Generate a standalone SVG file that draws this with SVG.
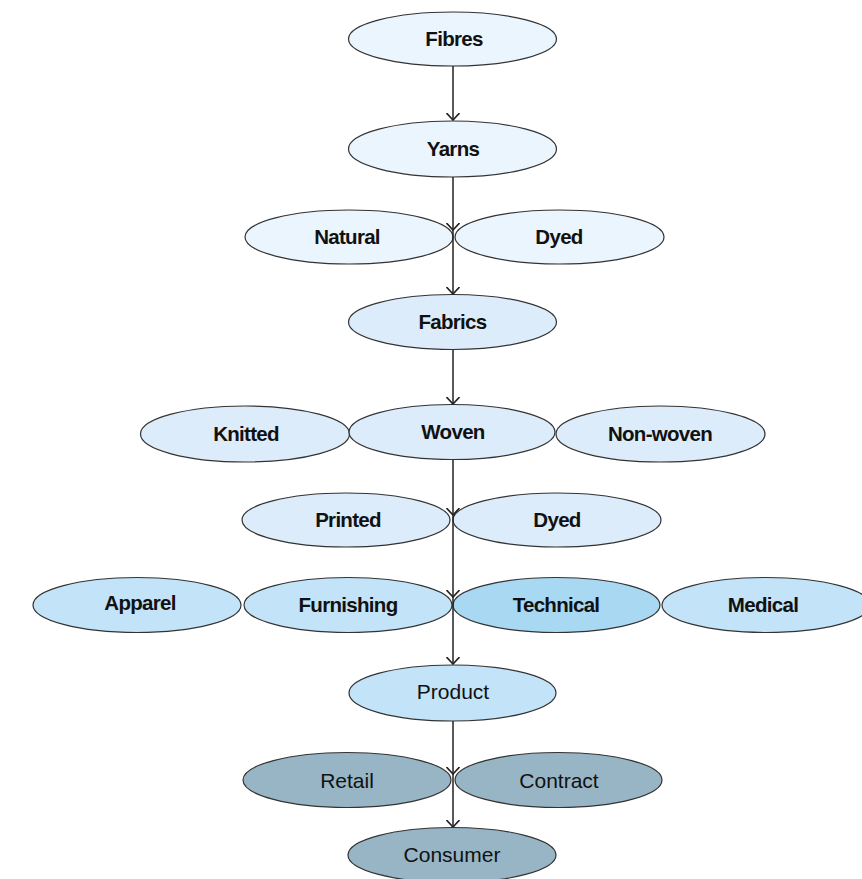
<svg xmlns="http://www.w3.org/2000/svg" width="862" height="879" viewBox="0 0 862 879">
<style>
  .n ellipse { stroke: #333333; stroke-width: 1.2; }
  .l1 { fill: #eaf5fd; }
  .l2 { fill: #dcecfa; }
  .l3 { fill: #c2e3f8; }
  .l3b { fill: #a9d8f3; }
  .l4 { fill: #97b5c5; }
  .b { font-family: "Liberation Sans", Arial, sans-serif; font-weight: bold; font-size: 20.5px; letter-spacing: -0.7px; fill: #111; text-anchor: middle; }
  .r { font-family: "Liberation Sans", Arial, sans-serif; font-size: 21px; fill: #111; text-anchor: middle; }
  .c line { stroke: #222; stroke-width: 1.5; fill: none; marker-end: url(#ah); }
</style>
<defs>
  <marker id="ah" viewBox="0 0 8 14" refX="7.5" refY="7" markerWidth="8" markerHeight="14" markerUnits="userSpaceOnUse" orient="auto">
    <path d="M0.5,0.5 L7.5,7 L0.5,13.5" fill="none" stroke="#222" stroke-width="1.6"/>
  </marker>
</defs>
<rect width="862" height="879" fill="#ffffff"/>

<g id="fibres" class="n"><ellipse class="l1" cx="452.5" cy="39" rx="104" ry="27"/><text class="b" x="454" y="46">Fibres</text></g>
<g id="yarns" class="n"><ellipse class="l1" cx="452.5" cy="149" rx="104" ry="28"/><text class="b" x="453" y="156">Yarns</text></g>
<g id="natural" class="n"><ellipse class="l1" cx="349" cy="237" rx="104" ry="27"/><text class="b" x="347" y="244">Natural</text></g>
<g id="dyed1" class="n"><ellipse class="l1" cx="559.5" cy="237" rx="104.5" ry="27"/><text class="b" x="559" y="244">Dyed</text></g>
<g id="fabrics" class="n"><ellipse class="l2" cx="452.5" cy="322" rx="104" ry="27.5"/><text class="b" x="452.5" y="329">Fabrics</text></g>
<g id="knitted" class="n"><ellipse class="l2" cx="245" cy="434" rx="104.5" ry="28"/><text class="b" x="246" y="441">Knitted</text></g>
<g id="woven" class="n"><ellipse class="l2" cx="452" cy="432" rx="103" ry="27.5"/><text class="b" x="453" y="439">Woven</text></g>
<g id="nonwoven" class="n"><ellipse class="l2" cx="660.5" cy="434" rx="104.5" ry="28"/><text class="b" x="660" y="441">Non-woven</text></g>
<g id="printed" class="n"><ellipse class="l2" cx="346" cy="520" rx="104" ry="27"/><text class="b" x="348" y="527">Printed</text></g>
<g id="dyed2" class="n"><ellipse class="l2" cx="557" cy="520" rx="104" ry="27"/><text class="b" x="557" y="527">Dyed</text></g>
<g id="apparel" class="n"><ellipse class="l3" cx="137" cy="605" rx="104" ry="27.5"/><text class="b" x="140" y="610">Apparel</text></g>
<g id="furnishing" class="n"><ellipse class="l3" cx="348" cy="605" rx="104" ry="27.5"/><text class="b" x="348" y="612">Furnishing</text></g>
<g id="technical" class="n"><ellipse class="l3b" cx="556.5" cy="605" rx="103.5" ry="27.5"/><text class="b" x="556" y="612">Technical</text></g>
<g id="medical" class="n"><ellipse class="l3" cx="766" cy="605" rx="104" ry="27.5"/><text class="b" x="763" y="612">Medical</text></g>
<g id="product" class="n"><ellipse class="l3" cx="452.5" cy="693" rx="103.5" ry="28"/><text class="r" x="453" y="699">Product</text></g>
<g id="retail" class="n"><ellipse class="l4" cx="347" cy="780" rx="104" ry="27.5"/><text class="r" x="347" y="788">Retail</text></g>
<g id="contract" class="n"><ellipse class="l4" cx="558.5" cy="780" rx="103.5" ry="27.5"/><text class="r" x="559" y="788">Contract</text></g>
<g id="consumer" class="n"><ellipse class="l4" cx="452" cy="855" rx="104" ry="27.5"/><text class="r" x="452" y="862">Consumer</text></g>

<g id="connectors" class="c">
  <line x1="453" y1="66" x2="453" y2="120"/>
  <line x1="453" y1="177" x2="453" y2="230"/>
  <line x1="453" y1="230" x2="453" y2="294"/>
  <line x1="453" y1="350" x2="453" y2="404"/>
  <line x1="453" y1="460" x2="453" y2="515"/>
  <line x1="453" y1="515" x2="453" y2="597"/>
  <line x1="453" y1="597" x2="453" y2="664"/>
  <line x1="453" y1="721" x2="453" y2="774"/>
  <line x1="453" y1="774" x2="453" y2="827"/>
</g>
</svg>
